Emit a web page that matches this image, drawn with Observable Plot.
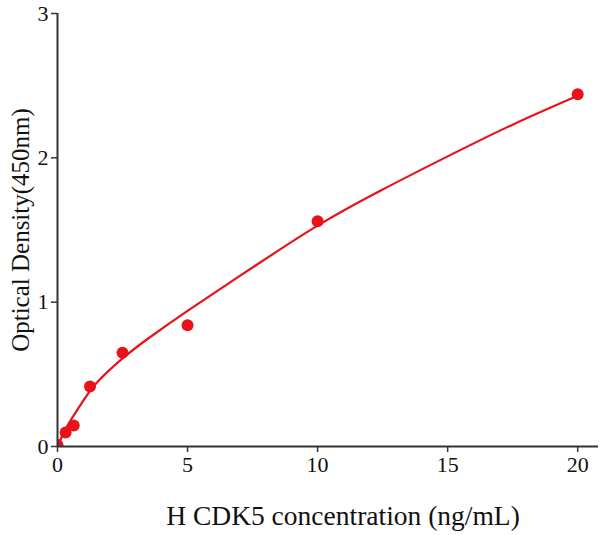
<!DOCTYPE html>
<html>
<head>
<meta charset="utf-8">
<script src="https://cdn.jsdelivr.net/npm/d3@7"></script>
<script src="https://cdn.jsdelivr.net/npm/@observablehq/plot@0.6"></script>
<style>
  html, body { margin: 0; padding: 0; background: #fff; }
  svg { display: block; }
</style>
</head>
<body>
<div id="chart"></div>
<script>
// Measured standards
const conc = [0, 0.3125, 0.625, 1.25, 2.5, 5, 10, 20];
const od = [0.01, 0.097, 0.146, 0.416, 0.65, 0.84, 1.56, 2.44];

// Fitted curve
const curveX = [0, 0.25, 0.5, 1, 1.5, 2.5, 3.5, 5, 7.5, 10, 12.5, 15, 17.5, 20];
const curveY = [0.0, 0.10, 0.18, 0.32, 0.44, 0.61, 0.75, 0.94, 1.24, 1.53, 1.78, 2.01, 2.23, 2.43];

const xTicks = [0, 5, 10, 15, 20];
const yTicks = [0, 1, 2, 3];

const points = conc.map((c, i) => ({x: c, y: od[i]}));
const curve = curveX.map((c, i) => ({x: c, y: curveY[i]}));

const red = "#e8121a";
const axisColor = "#333";

const chart = Plot.plot({
  width: 600,
  height: 535,
  marginLeft: 57,
  marginRight: 2,
  marginTop: 13,
  marginBottom: 89,
  style: {fontFamily: "'Liberation Serif', 'Times New Roman', serif", background: "#fff"},
  x: {domain: [0, 20.8]},
  y: {domain: [0, 3]},
  marks: [
    Plot.line(curve, {x: "x", y: "y", stroke: red, strokeWidth: 2.2, curve: "natural", clip: true}),
    Plot.dot(points, {x: "x", y: "y", r: 6, fill: red, stroke: "none", clip: true}),
    Plot.ruleY([0], {stroke: axisColor, strokeWidth: 2}),
    Plot.ruleX([0], {stroke: axisColor, strokeWidth: 2}),
    Plot.axisX({ticks: xTicks, tickSize: 6, tickPadding: 4, stroke: axisColor, strokeWidth: 1.5,
      tickFormat: d3.format("d"), fontSize: 22, fill: "#111", label: null}),
    Plot.axisY({ticks: yTicks, tickSize: 6, tickPadding: 3, stroke: axisColor, strokeWidth: 1.5,
      tickFormat: d3.format("d"), fontSize: 22, fill: "#111", label: null}),
    Plot.text(["H CDK5 concentration (ng/mL)"], {frameAnchor: "bottom", dx: 15, dy: 78, fontSize: 27.5, fill: "#111", text: d => d}),
    Plot.text(["Optical Density(450nm)"], {frameAnchor: "left", dx: -37, rotate: -90, textAnchor: "middle", fontSize: 25, fill: "#111", text: d => d})
  ]
});
document.getElementById("chart").append(chart);
</script>
</body>
</html>
